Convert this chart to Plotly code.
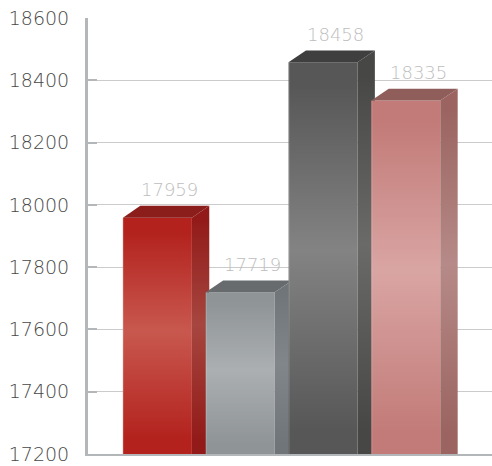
import plotly.graph_objects as go

# ---- data ----
categories = ["Bar 1", "Bar 2", "Bar 3", "Bar 4"]
values = [17959, 17719, 18458, 18335]
y_ticks = [17200, 17400, 17600, 17800, 18000, 18200, 18400, 18600]

# ---- styles (front edge, front centre, side edge, side centre, top) ----
front_edge = ["#b3221d", "#8f9497", "#575757", "#c27b78"]
front_mid = ["#c8584f", "#abafb2", "#838383", "#d9a5a3"]
side_edge = ["#921b19", "#6f7578", "#474745", "#9b6460"]
side_mid = ["#a6463f", "#80868a", "#6a6a69", "#b68a88"]
top_col = ["#8b1d1b", "#676b6e", "#3f3f3f", "#8f5e5b"]

y0 = 17200
w = 0.833      # front width (x units)
dx = 0.21      # depth offset x
dy = 38        # depth offset y (data units)

fig = go.Figure()

for i, (cat, v) in enumerate(zip(categories, values)):
    xl, xr = i - w / 2, i + w / 2
    # front face
    fig.add_trace(go.Scatter(
        x=[xl, xr, xr, xl, xl], y=[y0, y0, v, v, y0],
        fill="toself", mode="lines", line=dict(width=0),
        fillgradient=dict(type="vertical",
                          colorscale=[[0, front_edge[i]], [0.06, front_edge[i]],
                                      [0.52, front_mid[i]], [0.94, front_edge[i]],
                                      [1, front_edge[i]]]),
        hoverinfo="skip", showlegend=False, name=cat))
    # side face
    fig.add_trace(go.Scatter(
        x=[xr, xr + dx, xr + dx, xr, xr], y=[y0, y0, v + dy, v, y0],
        fill="toself", mode="lines", line=dict(width=0),
        fillgradient=dict(type="vertical",
                          colorscale=[[0, side_edge[i]], [0.06, side_edge[i]],
                                      [0.52, side_mid[i]], [0.94, side_edge[i]],
                                      [1, side_edge[i]]]),
        hoverinfo="skip", showlegend=False))
    # top face
    fig.add_trace(go.Scatter(
        x=[xl, xr, xr + dx, xl + dx, xl], y=[v, v, v + dy, v + dy, v],
        fill="toself", mode="lines", line=dict(width=0),
        fillcolor=top_col[i], hoverinfo="skip", showlegend=False))
    # thin highlight on the front left edge
    fig.add_trace(go.Scatter(
        x=[xl + 0.008, xl + 0.008], y=[y0, v], mode="lines",
        line=dict(width=1, color="rgba(255,255,255,0.15)"),
        hoverinfo="skip", showlegend=False))
    fig.add_annotation(x=i + 0.15, y=v, yshift=28, text=str(v), showarrow=False,
                       font=dict(family="DejaVu Sans", size=18, color="#bdbdbd",
                                 weight=300))

fig.update_layout(
    width=492, height=466,
    margin=dict(l=88, r=0, t=18, b=12),
    paper_bgcolor="white", plot_bgcolor="white",
    showlegend=False,
    xaxis=dict(range=[-0.838, 4.041], showgrid=False, zeroline=False,
               showticklabels=False, ticks="", showline=True, automargin=False,
               linecolor="#b3b7ba", linewidth=2, fixedrange=True),
    yaxis=dict(range=[17200, 18600], tickvals=y_ticks,
               ticktext=[str(t) for t in y_ticks], automargin=False,
               ticklabeloverflow="allow",
               showgrid=True, gridcolor="#cbcbcb", gridwidth=1,
               zeroline=False, showline=True, linecolor="#b3b7ba", linewidth=3,
               ticks="inside", ticklen=9, tickwidth=2, tickcolor="#b3b7ba",
               ticklabelstandoff=12,
               tickfont=dict(family="DejaVu Sans", size=19, color="#474747",
                             weight=300),
               fixedrange=True),
)

fig.write_html("out.html",
               config={"displayModeBar": False, "staticPlot": True},
               post_script="document.body.style.margin='0';"
                           "document.body.style.overflow='hidden';"
                           "document.documentElement.style.overflow='hidden';")
